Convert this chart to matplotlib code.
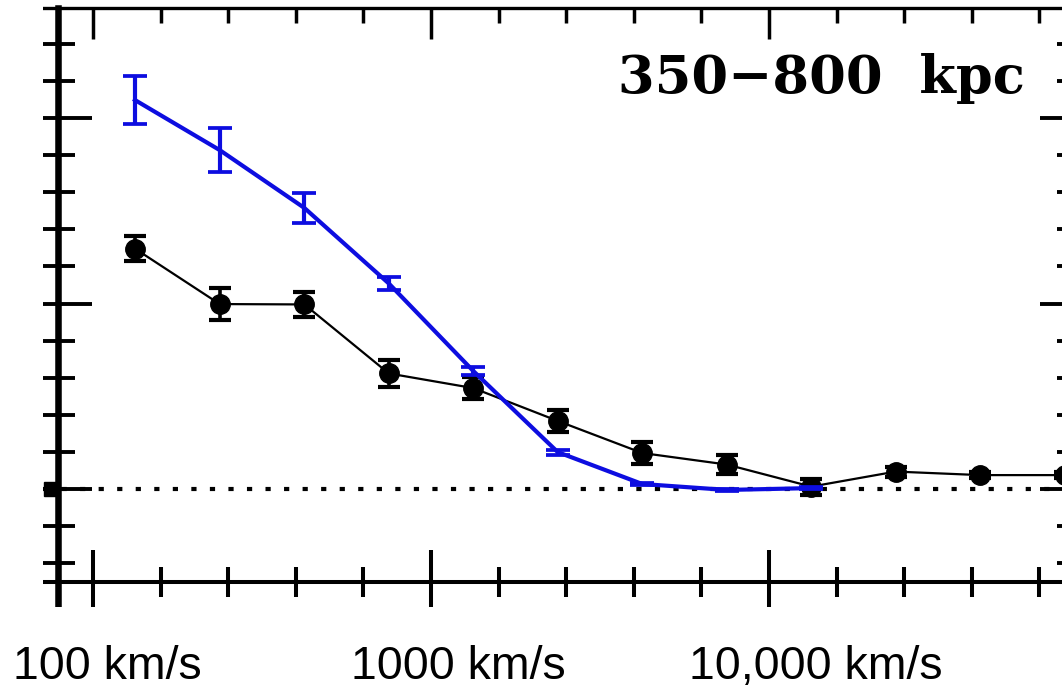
import numpy as np
import matplotlib
matplotlib.use("Agg")
import matplotlib.pyplot as plt
from matplotlib.ticker import FixedLocator, NullFormatter
from matplotlib.patches import Rectangle
import matplotlib.transforms as mtransforms

# bin centres (km/s), 0.25 dex bins
velocity = [133, 237, 422, 750, 1334, 2371, 4217, 7499, 13335, 23714, 42170, 74989]

# black points with error bars
black_y = [1.296, 0.997, 0.995, 0.623, 0.544, 0.367, 0.194, 0.132, 0.013, 0.094, 0.075, 0.075]
black_err = [0.067, 0.086, 0.067, 0.073, 0.059, 0.059, 0.059, 0.051, 0.043, 0.027, 0.016, 0.016]

# blue curve (first 9 bins)
blue_y = [2.097, 1.827, 1.515, 1.108, 0.636, 0.199, 0.027, -0.005, 0.005]
blue_err = [0.129, 0.119, 0.081, 0.035, 0.024, 0.013, 0.008, 0.005, 0.005]

zero_marker_v = 75
label_ticks = [100, 1000, 10000]
label_text = ['100 km/s', '1000 km/s', '10,000 km/s']
panel_title = '350\u2212800  kpc'

W, H = 1062, 691
fig = plt.figure(figsize=(W / 100, H / 100), dpi=100)
ax = fig.add_axes([43 / W, 1 - 607 / H, (1074 - 43) / W, (607 - 8) / H])

ax.set_xscale('log')
ax.set_xlim(71.1, 79880)
ax.set_ylim(-0.636, 2.593)

# zero line
ax.axhline(0, color='black', lw=3.0, linestyle=(0, (1.25, 3.2)), zorder=1)
ax.plot([zero_marker_v], [0], 's', color='black', ms=10, zorder=3)

ax.errorbar(velocity, black_y, yerr=black_err, color='black', lw=1.6,
            marker='o', ms=14, elinewidth=2.6, capsize=8, capthick=3.0, zorder=4)
nb = len(blue_y)
ax.errorbar(velocity[:nb], blue_y, yerr=blue_err, color='#0d0de0', lw=3,
            elinewidth=3, capsize=8.3, capthick=2.7, zorder=5)

# spines
ax.spines['left'].set_position(('data', 79))
ax.spines['left'].set_linewidth(4.7)
ax.spines['bottom'].set_position(('data', -0.5))
ax.spines['bottom'].set_linewidth(2.9)
ax.spines['top'].set_visible(False)
ax.spines['right'].set_linewidth(2.5)

xmajor = [100, 1000, 10000]
xminor = [10 ** (e + f) for e in (2, 3, 4) for f in (0.2, 0.4, 0.6, 0.8)]
ax.xaxis.set_major_locator(FixedLocator(xmajor))
ax.xaxis.set_minor_locator(FixedLocator(xminor))
ax.xaxis.set_major_formatter(NullFormatter())
ax.xaxis.set_minor_formatter(NullFormatter())
ax.yaxis.set_major_locator(FixedLocator([0, 1, 2]))
ax.yaxis.set_minor_locator(FixedLocator(np.round(np.arange(-0.4, 2.41, 0.2), 2)))
ax.yaxis.set_major_formatter(NullFormatter())

ax.tick_params(axis='x', which='major', direction='inout', length=46, width=2.9,
               top=False, bottom=True)
ax.tick_params(axis='x', which='minor', direction='inout', length=22, width=2.9,
               top=False, bottom=True)
ax.tick_params(axis='y', which='major', direction='inout', length=49, width=2.8,
               left=True, right=True)
ax.tick_params(axis='y', which='minor', direction='inout', length=24.5, width=2.8,
               left=True, right=True)

# top axis with inward ticks
sec = ax.secondary_xaxis('top')
sec.xaxis.set_major_locator(FixedLocator(xmajor))
sec.xaxis.set_minor_locator(FixedLocator(xminor))
sec.xaxis.set_major_formatter(NullFormatter())
sec.xaxis.set_minor_formatter(NullFormatter())
sec.spines['top'].set_linewidth(2.4)
sec.tick_params(which='major', direction='in', length=22, width=2.5)
sec.tick_params(which='minor', direction='in', length=11, width=2.5)

# crop like the original picture
fig.add_artist(Rectangle((0, 1 - 640 / H), 43 / W, 640 / H, transform=fig.transFigure,
                         facecolor='white', edgecolor='none', zorder=10))
fig.add_artist(Rectangle((0, 1 - 640 / H), 1, (640 - 607) / H, transform=fig.transFigure,
                         facecolor='white', edgecolor='none', zorder=10))

fig.text(1025 / W, 1 - 93 / H, panel_title, ha='right', va='baseline',
         fontsize=38, family='DejaVu Serif', weight='bold')

shift = mtransforms.ScaledTranslation(-0.8, 0, fig.dpi_scale_trans)
trans = mtransforms.blended_transform_factory(ax.transData, fig.transFigure) + shift
for v, s in zip(label_ticks, label_text):
    fig.text(v, 1 - 679 / H, s, transform=trans, ha='left', va='baseline',
             fontsize=33.5, family=['Liberation Sans', 'DejaVu Sans'], zorder=11)

fig.savefig('out.png', dpi=100)
